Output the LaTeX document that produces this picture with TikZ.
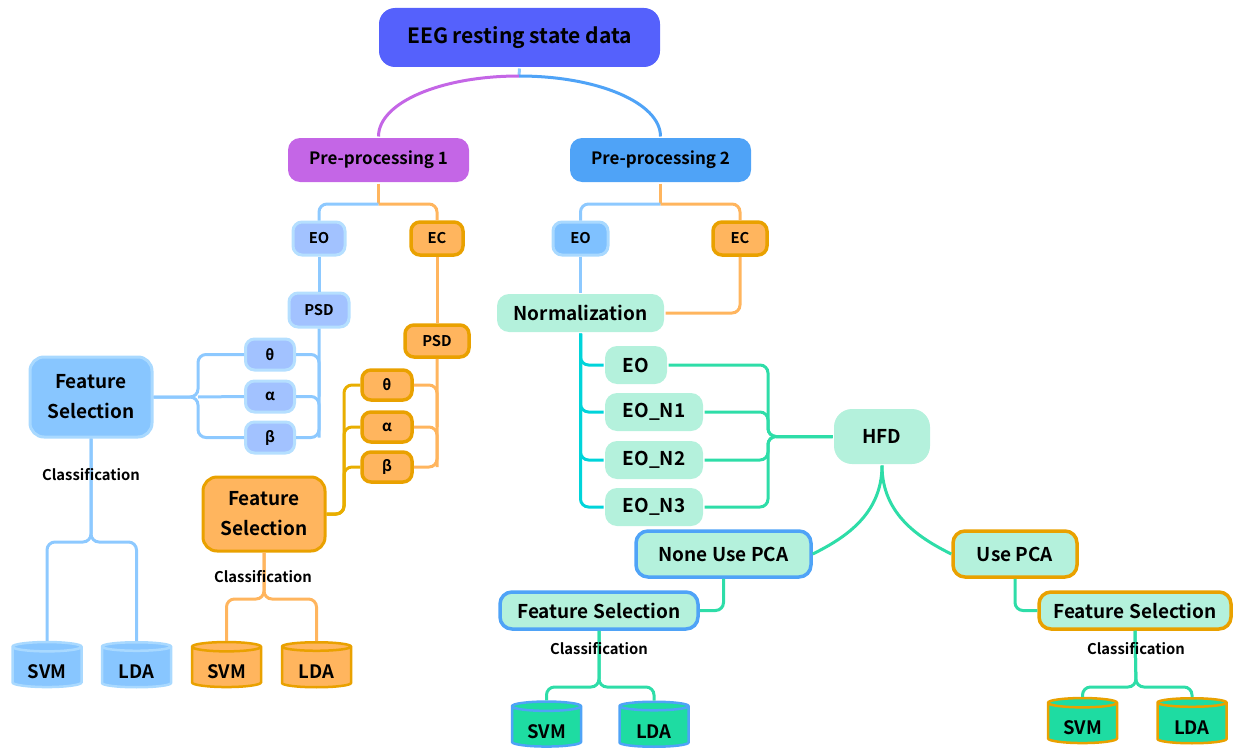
\documentclass[tikz,border=0pt]{standalone}
\usepackage{fontspec}
\setmainfont{Noto Sans CJK SC}[UprightFont=* Bold]
\usetikzlibrary{shapes.geometric}

\definecolor{titleblue}{HTML}{5561FC}
\definecolor{purp}{HTML}{C466E6}
\definecolor{ppblue}{HTML}{4FA3F7}
\definecolor{lightline}{HTML}{8DC9FF}
\definecolor{peri}{HTML}{A2C2FF}
\definecolor{peribd}{HTML}{B5DFFF}
\definecolor{skyfill}{HTML}{88C6FF}
\definecolor{skybd}{HTML}{A9D9FF}
\definecolor{eofill}{HTML}{7FC1FF}
\definecolor{orng}{HTML}{FFB55E}
\definecolor{gold}{HTML}{E9A100}
\definecolor{goldline}{HTML}{E8AE00}
\definecolor{mint}{HTML}{B4F1DC}
\definecolor{teal}{HTML}{2EDDA8}
\definecolor{cyanline}{HTML}{00D4DA}
\definecolor{dbgreen}{HTML}{1EDCA2}

\begin{document}
\begin{tikzpicture}[x=1pt, y=-1pt, line width=3pt,
		box/.style={rounded corners=12pt, inner sep=0pt, align=center, font=\fontsize{19}{30}\selectfont},
		tiny/.style={box, rounded corners=9pt, font=\fontsize{14.8}{18}\selectfont},
		sz/.style 2 args={minimum width=#1pt, minimum height=#2pt},
		perbox/.style={tiny, fill=peri, draw=peribd},
		orgbox/.style={tiny, fill=orng, draw=gold, line width=3.5pt},
		mintbox/.style={box, fill=mint},
		db/.style={cylinder, shape border rotate=90, aspect=0.24, draw, line width=2.5pt, inner sep=0pt,
			minimum width=69pt, minimum height=45pt, text height=23pt, text depth=1pt, font=\fontsize{18.5}{22}\selectfont},
		cls/.style={inner sep=1pt, font=\fontsize{14.8}{18}\selectfont},
		rc/.style={rounded corners=8pt},
		bl/.style={draw=lightline}, ol/.style={draw=orng}, gl/.style={draw=goldline},
		cl/.style={draw=cyanline}, tl/.style={draw=teal}]

	\useasboundingbox (0,0) rectangle (1233,749);

	\node[box, fill=titleblue, sz={281}{59}, rounded corners=16pt, font=\fontsize{21}{26}\selectfont] (eeg) at (519.5,37.5) {EEG resting state data};
	\node[box, fill=purp, sz={181}{44}, font=\fontsize{17}{22}\selectfont] (ppA) at (378.5,160) {Pre-processing 1};
	\node[box, fill=ppblue, sz={181}{44}, font=\fontsize{17}{22}\selectfont] (ppB) at (660.5,160) {Pre-processing 2};

	\node[perbox, sz={52}{33}] (eoA) at (319,238.5) {EO};
	\node[orgbox, sz={52}{33}] (ecA) at (437,238.5) {EC};
	\node[perbox, sz={60}{34}] (psdA) at (319,310) {PSD};
	\node[orgbox, sz={64}{32}] (psdB) at (437,341) {PSD};
	\node[perbox, sz={49}{31}] (thA) at (270,354.5) {θ};
	\node[perbox, sz={49}{31}] (alA) at (270,396.5) {α};
	\node[perbox, sz={49}{31}] (btA) at (270,437.5) {β};
	\node[orgbox, sz={50}{30}] (thB) at (387,385) {θ};
	\node[orgbox, sz={50}{30}] (alB) at (387,427) {α};
	\node[orgbox, sz={50}{30}] (btB) at (387,467) {β};
	\node[box, fill=skyfill, draw=skybd, sz={122}{80}, rounded corners=14pt] (fsA) at (91,397) {Feature\\Selection};
	\node[box, fill=orng, draw=gold, sz={122}{74}, rounded corners=14pt] (fsB) at (264,514) {Feature\\Selection};
	\node[db, fill=skyfill, draw=skybd] (svmA) at (47,667.5) {SVM};
	\node[db, fill=skyfill, draw=skybd] (ldaA) at (136.5,667.5) {LDA};
	\node[db, fill=orng, draw=gold] (svmB) at (226.5,667.5) {SVM};
	\node[db, fill=orng, draw=gold] (ldaB) at (316.5,667.5) {LDA};

	\node[tiny, fill=eofill, draw=skybd, sz={55}{33}] (eoB) at (580.5,238.5) {EO};
	\node[orgbox, sz={54}{33}] (ecB) at (740,238.5) {EC};
	\node[mintbox, sz={167}{38}] (norm) at (580.5,313) {Normalization};
	\node[mintbox, sz={62}{38}] (nA) at (636,365) {EO};
	\node[mintbox, sz={98}{38}] (nB) at (654,412) {EO\_N1};
	\node[mintbox, sz={98}{38}] (nC) at (654,460) {EO\_N2};
	\node[mintbox, sz={98}{38}] (nD) at (654,507) {EO\_N3};
	\node[mintbox, sz={96}{55}, rounded corners=18pt] (hfd) at (882,436.5) {HFD};
	\node[mintbox, draw=ppblue, line width=3.5pt, sz={175}{46}] (npca) at (723.5,554) {None Use PCA};
	\node[mintbox, draw=gold, line width=3.5pt, sz={124}{46}] (upca) at (1015,554) {Use PCA};
	\node[mintbox, draw=ppblue, line width=3.5pt, sz={198}{37}] (fsC) at (599,610.5) {Feature Selection};
	\node[mintbox, draw=gold, line width=3.5pt, sz={192}{37}] (fsD) at (1135,610.5) {Feature Selection};
	\node[db, fill=dbgreen, draw=ppblue] (svmC) at (546.5,727) {SVM};
	\node[db, fill=dbgreen, draw=ppblue] (ldaC) at (654,727) {LDA};
	\node[db, fill=dbgreen, draw=gold] (svmD) at (1082.5,723.5) {SVM};
	\node[db, fill=dbgreen, draw=gold] (ldaD) at (1192,723.5) {LDA};

	\coordinate (top) at (519,76);
	\draw[bl] (eeg.south) -- (top);
	\draw[draw=purp] (top) .. controls +(-78,0) and +(0,-34) .. (ppA.north);
	\draw[draw=ppblue] (top) .. controls +(78,0) and +(0,-34) .. (ppB.north);

	\coordinate (sA) at (378.5,204);
	\draw[ol] (ppA.south) -- (sA);
	\draw[bl, rc] (sA) -| (eoA.north);
	\draw[ol, rc] (sA) -| (ecA.north);
	\draw[bl] (eoA) -- (psdA);
	\draw[ol] (ecA) -- (psdB);

	\draw[bl, rc] (psdA.south) |- (btA.east);
	\draw[bl, rc] (thA.east) -| (psdA.south |- alA.east);
	\draw[bl, rc] (alA.east) -| (psdA.south |- btA.east);
	\coordinate (jA) at (198,397);
	\draw[bl, rc] (fsA.east) -- (jA) |- (thA.west);
	\draw[bl, rc] (fsA.east) -- (jA) |- (btA.west);
	\draw[bl] (jA) -- (alA.west);

	\draw[ol, rc] (psdB.south) |- (btB.east);
	\draw[ol, rc] (thB.east) -| (psdB.south |- alB.east);
	\draw[ol, rc] (alB.east) -| (psdB.south |- btB.east);
	\coordinate (jB) at (344,514);
	\draw[gl, rc] (fsB.east) -- (jB) |- (thB.west);
	\draw[gl, rc] (fsB.east) -- (jB) |- (alB.west);
	\draw[gl, rc] (fsB.east) -- (jB) |- (btB.west);

	\coordinate (cA) at (91,542);
	\draw[bl, rc] (fsA.south) -- (cA) -| (svmA.north);
	\draw[bl, rc] (fsA.south) -- (cA) -| (ldaA.north);
	\coordinate (cB) at (264,599);
	\draw[ol, rc] (fsB.south) -- (cB) -| (svmB.north);
	\draw[ol, rc] (fsB.south) -- (cB) -| (ldaB.north);

	\coordinate (sB) at (660.5,204);
	\draw[ol] (ppB.south) -- (sB);
	\draw[bl, rc] (sB) -| (eoB.north);
	\draw[ol, rc] (sB) -| (ecB.north);
	\draw[bl] (eoB) -- (norm);
	\draw[ol, rc] (ecB.south) |- (norm.east);

	\draw[cl, rc] (norm.south) |- (nD.west);
	\draw[cl, rc] (norm.south) |- (nC.west);
	\draw[cl, rc] (norm.south) |- (nB.west);
	\draw[cl, rc] (norm.south) |- (nA.west);

	\coordinate (jH) at (768,436.5);
	\draw[tl, rc] (nA.east) -| (jH) -- (hfd.west);
	\draw[tl, rc] (nB.east) -| (jH) -- (hfd.west);
	\draw[tl, rc] (nC.east) -| (jH) -- (hfd.west);
	\draw[tl, rc] (nD.east) -| (jH) -- (hfd.west);
	\draw[tl] (hfd.south) .. controls +(0,50) and +(30,-15) .. (npca.east);
	\draw[tl] (hfd.south) .. controls +(0,50) and +(-30,-15) .. (upca.west);
	\draw[tl, rc] (npca.south) |- (fsC.east);
	\draw[tl, rc] (upca.south) |- (fsD.west);

	\coordinate (cC) at (599,687);
	\draw[tl, rc] (fsC.south) -- (cC) -| (svmC.north);
	\draw[tl, rc] (fsC.south) -- (cC) -| (ldaC.north);
	\coordinate (cD) at (1136,687);
	\draw[tl, rc] (fsD.south) -- (cD) -| (svmD.north);
	\draw[tl, rc] (fsD.south) -- (cD) -| (ldaD.north);

	\node[cls] (clA) at (91,475) {Classification};
	\node[cls] (clB) at (263,577) {Classification};
	\node[cls] (clC) at (599,649) {Classification};
	\node[cls] (clD) at (1136,649) {Classification};

\end{tikzpicture}
\end{document}
